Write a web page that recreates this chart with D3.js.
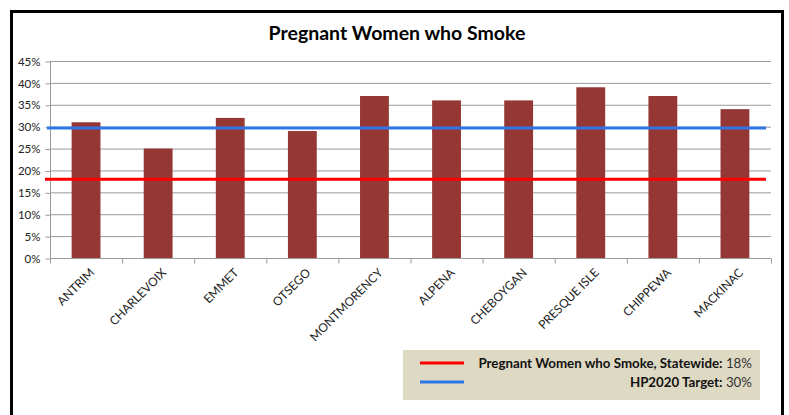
<!DOCTYPE html>
<html>
<head>
<meta charset="utf-8">
<script src="https://cdn.jsdelivr.net/npm/d3@7"></script>
<style>
  body { margin: 0; background: #fff; }
  text { font-family: Lato, "Open Sans", sans-serif; }
</style>
</head>
<body>
<svg width="789" height="415"></svg>
<script>
var counties = ["ANTRIM", "CHARLEVOIX", "EMMET", "OTSEGO", "MONTMORENCY",
                "ALPENA", "CHEBOYGAN", "PRESQUE ISLE", "CHIPPEWA", "MACKINAC"];
var smokers = [31, 25, 32, 29, 37, 36, 36, 39, 37, 34];
var yTicks = [0, 5, 10, 15, 20, 25, 30, 35, 40, 45];
var statewide = 18;
var target = 29.7;
var legendNames = ["Pregnant Women who Smoke, Statewide", "HP2020 Target"];
var legendValues = ["18%", "30%"];

var svg = d3.select("svg");

// outer frame
svg.append("rect")
    .attr("x", 11.5).attr("y", 11.5)
    .attr("width", 771).attr("height", 420)
    .attr("fill", "#fff")
    .attr("stroke", "#000")
    .attr("stroke-width", 3);

svg.append("text")
    .attr("x", 397).attr("y", 40)
    .attr("text-anchor", "middle")
    .attr("font-size", 19.5)
    .attr("font-weight", "bold")
    .text("Pregnant Women who Smoke");

var plotLeft = 50, plotRight = 771, plotTop = 61, plotBottom = 258;

var x = d3.scaleBand()
    .domain(counties)
    .range([plotLeft, plotRight])
    .paddingInner(0.6)
    .paddingOuter(0.3);

var y = d3.scaleLinear()
    .domain([0, 45])
    .range([plotBottom, plotTop]);

// gridlines
svg.append("g")
    .selectAll("line")
    .data(yTicks.slice(1))
    .enter().append("line")
    .attr("x1", plotLeft).attr("x2", plotRight)
    .attr("y1", function(d) { return y(d) + 0.5; })
    .attr("y2", function(d) { return y(d) + 0.5; })
    .attr("stroke", "#9a9a9a")
    .attr("stroke-width", 1);

// y axis
var yAxis = svg.append("g")
    .attr("transform", "translate(" + (plotLeft + 0.5) + ",0.5)")
    .call(d3.axisLeft(y).tickValues(yTicks)
          .tickFormat(function(d) { return d + "%"; })
          .tickSize(5).tickPadding(5));
yAxis.select(".domain").attr("stroke", "#9a9a9a").attr("d", "M0," + plotTop + "V" + plotBottom);
yAxis.selectAll(".tick line").attr("stroke", "#9a9a9a");
yAxis.selectAll("text").attr("font-size", 11.5).attr("fill", "#222")
    .attr("font-family", "Lato, sans-serif");

// bars
svg.append("g")
    .selectAll("rect")
    .data(smokers)
    .enter().append("rect")
    .attr("x", function(d, i) { return x(counties[i]); })
    .attr("y", function(d) { return y(d); })
    .attr("width", x.bandwidth())
    .attr("height", function(d) { return plotBottom - y(d); })
    .attr("fill", "#953735");

// x axis
var xAxis = svg.append("g")
    .attr("transform", "translate(0," + (plotBottom + 0.5) + ")");
xAxis.append("line")
    .attr("x1", plotLeft).attr("x2", plotRight)
    .attr("stroke", "#9a9a9a");
xAxis.selectAll("line.tk")
    .data(d3.range(counties.length + 1))
    .enter().append("line")
    .attr("class", "tk")
    .attr("x1", function(i) { return plotLeft + i * x.step() + x.step() * 0 + 0.5; })
    .attr("x2", function(i) { return plotLeft + i * x.step() + 0.5; })
    .attr("y1", 0).attr("y2", 5)
    .attr("stroke", "#9a9a9a");
xAxis.selectAll("text")
    .data(counties)
    .enter().append("text")
    .attr("transform", function(d) {
        return "translate(" + (x(d) + x.bandwidth() / 2 + 6) + ",12) rotate(-45)";
    })
    .attr("text-anchor", "end")
    .attr("dy", "0.35em")
    .attr("font-size", 12)
    .attr("fill", "#222")
    .text(function(d) { return d; });

// reference lines
svg.append("line")
    .attr("x1", 45).attr("x2", 766)
    .attr("y1", y(statewide)).attr("y2", y(statewide))
    .attr("stroke", "#ff0000").attr("stroke-width", 3);
svg.append("line")
    .attr("x1", 47).attr("x2", 766)
    .attr("y1", y(target)).attr("y2", y(target))
    .attr("stroke", "#2f77e6").attr("stroke-width", 3);

// legend
var legend = svg.append("g");
legend.append("rect")
    .attr("x", 403).attr("y", 350)
    .attr("width", 357).attr("height", 50)
    .attr("fill", "#ddd9c3");
var legendColors = ["#ff0000", "#2f77e6"];
legendNames.forEach(function(name, i) {
    var ly = 363 + i * 19;
    legend.append("line")
        .attr("x1", 420).attr("x2", 464)
        .attr("y1", ly).attr("y2", ly)
        .attr("stroke", legendColors[i]).attr("stroke-width", 3);
    var t = legend.append("text")
        .attr("x", 752).attr("y", ly + 4.5)
        .attr("text-anchor", "end")
        .attr("font-size", 13.3)
        .attr("fill", "#111");
    t.append("tspan").attr("font-weight", "bold").text(name + ":");
    t.append("tspan").attr("fill", "#333").text(" " + legendValues[i]);
});
</script>
</body>
</html>
